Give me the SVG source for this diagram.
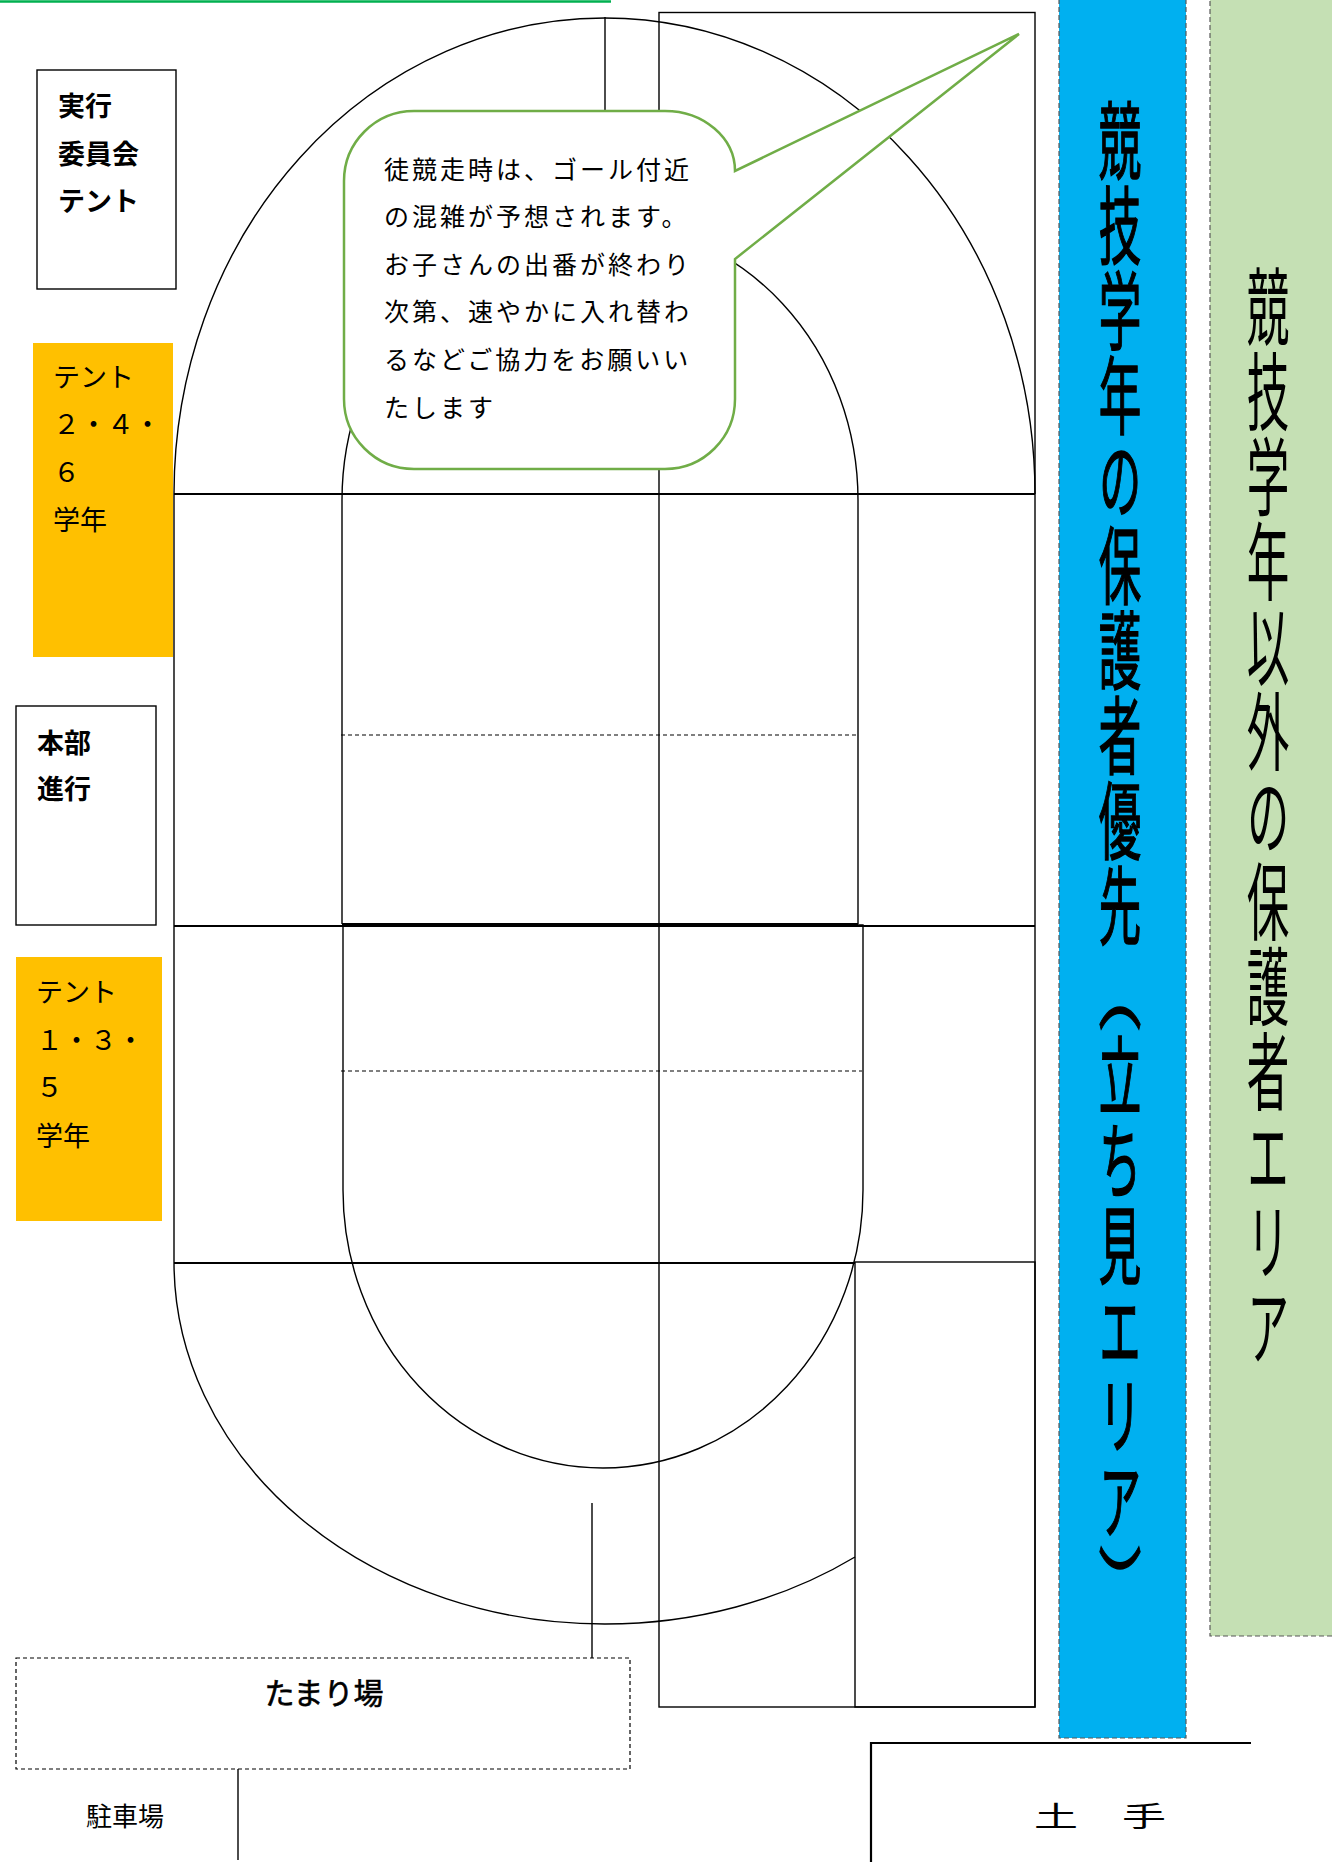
<svg xmlns="http://www.w3.org/2000/svg" width="1332" height="1862" viewBox="0 0 1332 1862">
<style>
.ln{fill:none;stroke:#000;stroke-width:1.4}
.thk{fill:none;stroke:#000;stroke-width:2.2}
.dsh{fill:none;stroke:#000;stroke-width:1.2;stroke-dasharray:4 3}
.band{stroke:#595959;stroke-width:1.2;stroke-dasharray:5 3}
.jp{font-family:"Noto Sans CJK JP","Noto Sans CJK SC",sans-serif;fill:#000}
.lbl{font-size:27px}
.call{font-size:25px;letter-spacing:3px}
.vt{font-size:85px;writing-mode:vertical-rl}
</style>
<rect width="1332" height="1862" fill="#fff"/>
<line x1="0" y1="1.5" x2="611" y2="1.5" stroke="#00b050" stroke-width="2.5"/>

<g id="bands">
  <rect id="blue-area" class="band" x="1059" y="-2" width="127" height="1740" fill="#00b0f0"/>
  <rect id="green-area" class="band" x="1210" y="-2" width="130" height="1638" fill="#c5e0b4"/>
</g>

<g id="track">
  <path class="ln" d="M174,494 A430.5,476 0 0 1 1035,494"/>
  <path class="ln" d="M174,494 V1262 A430.5,362 0 0 0 604.5,1624 A430.5,362 0 0 0 855,1557"/>
  <path class="ln" d="M342,924 V500 A258,278 0 0 1 858,500 V924"/>
  <path class="ln" d="M343,925 H863 V1190 A260,278 0 0 1 603,1468 A260,278 0 0 1 343,1190 Z"/>
  <rect class="ln" x="659" y="12.5" width="376" height="1694.5"/>
  <rect class="ln" x="855" y="1262" width="180" height="445"/>
</g>

<g id="connectors">
  <line class="thk" x1="174" y1="494" x2="1035" y2="494"/>
  <line class="thk" x1="342" y1="924" x2="858" y2="924"/>
  <line class="thk" x1="174" y1="926" x2="1035" y2="926"/>
  <line class="thk" x1="174" y1="1263" x2="855" y2="1263"/>
  <line class="dsh" x1="341" y1="735" x2="858" y2="735"/>
  <line class="dsh" x1="341" y1="1071" x2="862" y2="1071"/>
  <line class="ln" x1="605" y1="17" x2="605" y2="111"/>
  <line class="ln" x1="592" y1="1503" x2="592" y2="1658"/>
  <line class="ln" x1="238" y1="1769" x2="238" y2="1860"/>
  <path class="thk" d="M871,1862 V1743 H1251"/>
</g>

<g id="callout">
  <path d="M414,111 H665 A70,60 0 0 1 735,171 L1019,34 L735,259 V399 A70,70 0 0 1 665,469 H414 A70,70 0 0 1 344,399 V181 A70,70 0 0 1 414,111 Z" fill="#fff" stroke="#70ad47" stroke-width="2.5"/>
  <g class="jp call">
    <text x="384" y="179">徒競走時は、ゴール付近</text>
    <text x="384" y="226">の混雑が予想されます。</text>
    <text x="384" y="274">お子さんの出番が終わり</text>
    <text x="384" y="321">次第、速やかに入れ替わ</text>
    <text x="384" y="369">るなどご協力をお願いい</text>
    <text x="384" y="417">たします</text>
  </g>
</g>

<g id="committee-tent">
  <rect class="ln" x="37" y="70" width="139" height="219" fill="#fff"/>
  <g class="jp lbl" font-weight="bold">
    <text x="58" y="116">実行</text>
    <text x="58" y="164">委員会</text>
    <text x="58" y="211">テント</text>
  </g>
</g>

<g id="tent-246">
  <rect x="33" y="343" width="140" height="314" fill="#ffc000"/>
  <g class="jp lbl">
    <text x="53" y="387">テント</text>
    <text x="53" y="434">２・４・</text>
    <text x="53" y="482">６</text>
    <text x="53" y="530">学年</text>
  </g>
</g>

<g id="headquarters">
  <rect class="ln" x="16" y="706" width="140" height="219" fill="#fff"/>
  <g class="jp lbl" font-weight="bold">
    <text x="37" y="753">本部</text>
    <text x="37" y="799">進行</text>
  </g>
</g>

<g id="tent-135">
  <rect x="16" y="957" width="146" height="264" fill="#ffc000"/>
  <g class="jp lbl">
    <text x="36" y="1002">テント</text>
    <text x="36" y="1050">１・３・</text>
    <text x="36" y="1097">５</text>
    <text x="36" y="1146">学年</text>
  </g>
</g>

<g id="tamariba">
  <rect class="dsh" x="16" y="1658" width="614" height="111"/>
  <text class="jp" x="324" y="1704" font-size="30" text-anchor="middle" stroke="#000" stroke-width="0.6">たまり場</text>
</g>

<g id="parking">
  <text class="jp" x="125" y="1826" font-size="26" text-anchor="middle">駐車場</text>
</g>

<g id="dote">
  <text class="jp" x="1034" y="1827" font-size="28" textLength="132" lengthAdjust="spacingAndGlyphs">土　手</text>
</g>

<g id="blue-label">
  <text class="jp vt" stroke="#000" stroke-width="1.5" transform="translate(1120,98) scale(0.5,1)" x="0" y="0">競技学年の保護者優先（立ち見エリア）</text>
</g>

<g id="green-label">
  <text class="jp vt" transform="translate(1268,264) scale(0.5,1)" x="0" y="0">競技学年以外の保護者エリア</text>
</g>
</svg>
